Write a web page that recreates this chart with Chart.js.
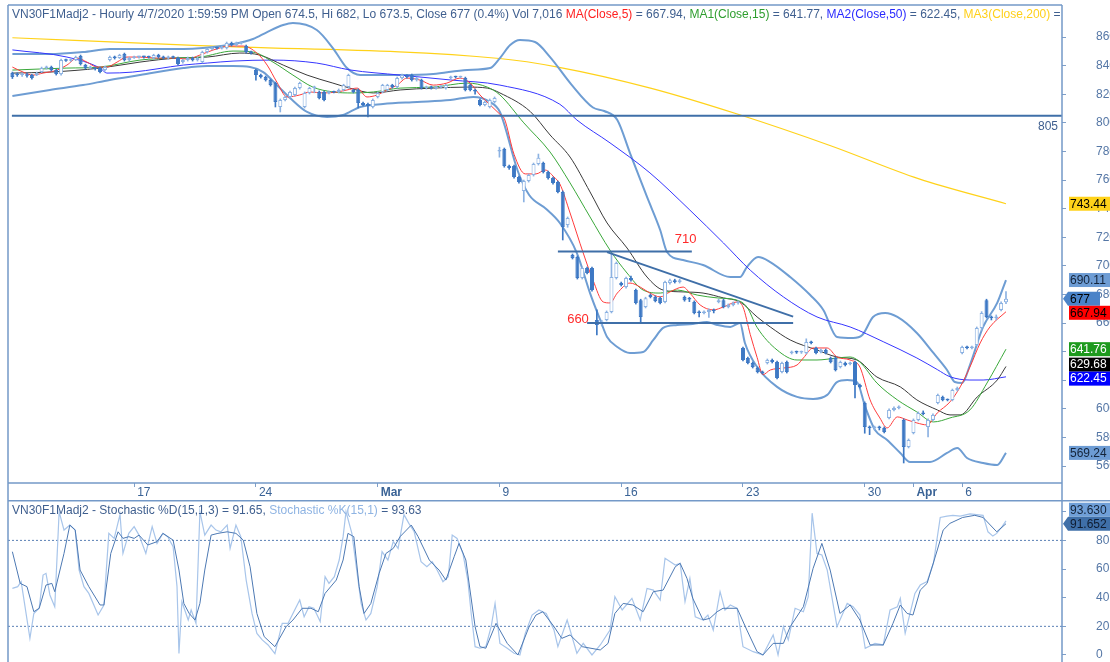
<!DOCTYPE html>
<html>
<head>
<meta charset="utf-8">
<script src="https://cdn.jsdelivr.net/npm/chart.js@4.4.1/dist/chart.umd.min.js"></script>
<style>
  html, body { margin: 0; padding: 0; background: #fff; }
  #wrap { position: relative; width: 1110px; height: 662px; overflow: hidden; }
  canvas { display: block; }
</style>
</head>
<body>
<div id="wrap">
  <canvas id="price" width="1110" height="500"></canvas>
  <canvas id="stoch" width="1110" height="162"></canvas>
</div>
<script>
// hourly bars, index 0 = Mon 10 Feb 2020 09:00, five bars per session
var barOpen = [
  834.8, 834, 833.4, 834, 833.4, 833.4, 835.5, 838.3, 839, 836.9,
  834.1, 843.9, 843.5, 843.9, 846.7, 840.4, 838.3, 838.3, 838.3, 836.9,
  843.9, 846, 845.3, 848.1, 843.9, 845.3, 846, 846.2, 846, 845.3,
  847.4, 846, 845.3, 846, 845.3, 842.5, 843.9, 845.3, 843.9, 842.5,
  849.5, 851.6, 852.3, 852, 852.3, 855.8, 854.4, 855.5, 853.7, 849.5,
  836.9, 833.4, 832, 829.9, 827.8, 811.1, 816, 818.1, 819.5, 824.3,
  811.1, 820.9, 824.3, 821.6, 821.6, 820.9, 821.6, 821.6, 823, 825,
  823, 823, 813.9, 813.2, 811.1, 818.1, 821.6, 823, 826.4, 825,
  831.3, 833, 833.4, 829.9, 829.9, 824.3, 825, 824.3, 825, 824.3,
  831.3, 832, 831.8, 831.3, 826.4, 823, 816, 812.5, 811.1, 814.6,
  780, 781.7, 770, 769.8, 762.1, 752.4, 759.3, 763.5, 771.2, 771.9,
  765.6, 761.4, 758.6, 751.7, 728.6, 707.6, 706.2, 691.5, 698.5, 698.5,
  662.2, 660.1, 662.2, 667.8, 691.5, 688, 685.2, 691.5, 683.1, 676,
  671.3, 679.6, 678.3, 677.6, 674.8, 688, 690, 688.7, 678.3, 677,
  674.8, 667.8, 667.1, 667.8, 669, 674.8, 676, 671.3, 672.7, 674,
  642.6, 635.6, 632.1, 628.6, 625.8, 632.1, 634.2, 632.8, 625.8, 632.8,
  639.1, 639.8, 639.5, 639.1, 646.8, 642.6, 639.8, 641.2, 635.6, 635.6,
  629.3, 632.1, 631.4, 632.8, 616.7, 604.2, 587.4, 586.7, 587, 586.7,
  593.7, 599.3, 600.7, 592.3, 573.4, 583.2, 592.3, 597.2, 587.4, 592.3,
  604.2, 608.4, 606.3, 606.3, 613.2, 639.1, 643.3, 642.6, 644.7, 656.6,
  676, 664.3, 663.6, 669.2, 674.5
];
var barHigh = [
  835.5, 835, 835, 834.8, 834, 835.5, 839, 839.7, 839.7, 837.6,
  844.6, 844.6, 844.6, 846.7, 847.4, 841, 839.7, 839, 839, 839.7,
  846.7, 846.7, 848, 848.8, 846, 846.7, 846.7, 846.7, 846.7, 848,
  848, 846.7, 846.7, 846.7, 846, 844.6, 846, 846, 846, 850.2,
  852.3, 853, 853, 853.7, 856.5, 856.5, 856.5, 856.7, 854.4, 850.2,
  837.6, 834.1, 832.7, 830.6, 828.5, 816.7, 818.8, 822.3, 825, 828.5,
  821.6, 825, 825.7, 822.3, 822.3, 822.3, 822.3, 823.7, 827, 834.1,
  823.7, 823.7, 814.6, 813.9, 816.7, 821.6, 827, 827, 827, 832,
  834.1, 833.7, 834.1, 832, 830.6, 825.7, 825.7, 825.7, 826, 827,
  832.7, 832.7, 832.7, 832, 827, 823.7, 816.7, 815.3, 816.7, 818.1,
  783, 782.4, 770.5, 770.5, 762.8, 760, 764.2, 771.9, 778.2, 772.6,
  766.3, 762.1, 759.3, 752.4, 734.2, 708.3, 706.9, 699.2, 699.2, 699.2,
  669.2, 662, 668.5, 709, 702.7, 688.7, 692.2, 692.9, 683.8, 676.7,
  678.1, 680.3, 679, 678.3, 689.4, 690.7, 690.7, 690.7, 679, 678,
  675.5, 668.5, 668.5, 669.9, 669.9, 676.7, 676.7, 673.4, 674.8, 675.5,
  643.3, 636.3, 632.8, 629.3, 626.5, 634.9, 634.9, 633.5, 632.8, 633.5,
  640.5, 640.5, 640.5, 649, 647.5, 643.3, 641.9, 641.9, 636.3, 636.3,
  633.5, 632.8, 632.8, 633.5, 617.4, 604.9, 588.1, 588, 588, 587.4,
  600, 601.4, 602.1, 593, 579, 593, 597.9, 598.6, 593, 596.5,
  610.4, 609, 607, 613.9, 615.3, 644, 644, 644, 657.3, 668,
  676.7, 665, 665.7, 674.8, 682
];
var barLow = [
  831, 832.5, 832.5, 832, 830.5, 833, 835, 837.6, 836.2, 833.4,
  833.4, 843, 843, 843.5, 840.4, 837.6, 837.6, 836.9, 835, 836.2,
  843.2, 844.6, 845, 843.2, 843.2, 845, 845.3, 845.3, 845.3, 844.6,
  845.3, 844.6, 844.6, 845, 840.4, 841.8, 843.2, 843.2, 843.2, 841.8,
  848.8, 851, 851.6, 851.6, 851.6, 853.7, 853.7, 855, 848.8, 848,
  829.9, 831.3, 829.2, 825.7, 811.1, 807.6, 815.3, 817.4, 818.8, 823.6,
  810.4, 820.2, 821, 816.7, 815.3, 820.2, 820.9, 820.9, 822.3, 824.3,
  820.9, 810.4, 811.8, 804.1, 810.4, 817.4, 820.9, 822.3, 824.3, 824.3,
  830.6, 831.3, 829.2, 829.2, 823.6, 823.6, 823.6, 823.6, 824.3, 823.6,
  830.6, 831.3, 831.3, 822.3, 822.3, 820, 811.8, 811.8, 810.4, 813.9,
  776, 769, 767.5, 761.4, 757.9, 744.7, 758.6, 762.8, 770.5, 764.9,
  760.7, 757.2, 751, 718.1, 727, 704.8, 690.8, 690.8, 694.3, 682.4,
  651.7, 658, 661.5, 667.1, 690.8, 685.9, 684.5, 689.3, 673.3, 660.1,
  670.6, 677.6, 674.8, 673.4, 674.1, 687.3, 688, 688, 675.3, 675,
  666.4, 664.3, 666.4, 664, 667.1, 674.1, 670.6, 670.6, 672, 673.3,
  633.5, 631.4, 628.6, 625.1, 624.4, 631.4, 632.1, 620.9, 625.1, 625.1,
  638.4, 638.8, 638.8, 638.4, 645.4, 638.4, 639.1, 638.4, 632.1, 626.5,
  628.6, 630, 630.7, 607.7, 614.7, 583, 582, 585.3, 585.3, 583.2,
  593, 598.6, 600, 562.2, 572.7, 582.5, 591.6, 595.8, 580.4, 591.6,
  603.5, 605.6, 605.6, 605.6, 612.5, 638.4, 641.9, 641.9, 644, 655,
  663.6, 662.2, 662.2, 668.5, 673.5
];
var barClose = [
  832, 833.4, 834, 833, 831.3, 834.8, 838.3, 839, 836.9, 834.1,
  843.9, 843.5, 843.9, 846, 841.1, 838.3, 839, 837.6, 835.5, 839,
  846, 845.3, 847.4, 843.9, 845.3, 846, 846.2, 846, 845.8, 847.4,
  846, 845.3, 846, 845.5, 841.1, 843.9, 845.3, 843.9, 845.3, 849.5,
  851.6, 852.3, 852, 853, 855.8, 854.4, 855.8, 856, 849.5, 848.8,
  833.4, 832, 829.9, 826.4, 814.6, 816, 818.1, 821.6, 824.3, 827.8,
  820.9, 824.3, 825, 817.4, 816, 821.6, 821.3, 823, 826.4, 833.4,
  821.6, 813.9, 812.5, 811.8, 816, 820.9, 826.4, 826.4, 825, 831.3,
  833.4, 832, 829.9, 831.3, 824.3, 825, 824.3, 825, 825.3, 826.4,
  832, 831.8, 832, 823, 823, 822, 812.5, 814.6, 816, 817.4,
  781, 769.8, 768.4, 762.1, 758.6, 759.3, 763.5, 771.2, 775.6, 765.6,
  761.4, 757.9, 751.7, 727.2, 733.5, 705.5, 691.5, 698.5, 695, 683.1,
  658.7, 660.8, 667.8, 692.2, 702, 686.6, 691.5, 690, 674, 664.3,
  677.4, 678.3, 675.5, 674.1, 688.7, 690, 688.7, 690, 676, 676.5,
  667.1, 667.1, 667.8, 669.2, 668.5, 676, 671.3, 672.7, 674, 674.8,
  634.2, 632.1, 629.3, 625.8, 625.1, 634.2, 632.8, 621.6, 632.1, 625.8,
  639.8, 639.5, 639.8, 646.8, 646.1, 639.1, 641.2, 639.1, 632.8, 627.2,
  632.8, 630.7, 632.1, 616.7, 615.4, 587.4, 586.7, 587, 586.7, 583.9,
  599.3, 600.7, 601.4, 573.4, 578.3, 592.3, 597.2, 596.5, 592.3, 595.8,
  609.7, 606.3, 606, 613.2, 614.6, 643.3, 642.6, 643.3, 656.6, 667,
  664.3, 663.6, 664.3, 674, 677
];

// indicator lines read at their turning points: [bar, value]
var ma5 = [[0,839],[2.2,835.5],[4.2,833.4],[6.3,834.8],[9.2,836.9],[11.2,840.4],[13.3,845.3],[15.3,842.5],[17.4,839],[19.4,839],
  [21.5,842.5],[23.5,846],[26.2,846],[29.7,845.3],[33,845.3],[35.9,844.6],[38.5,847.4],[41.2,850.9],[44.7,853.7],[47.4,853.7],
  [50.2,848.8],[52.3,840.4],[54.3,828.5],[56.4,818.1],[59,819.5],[61.1,821.6],[63.8,820.9],[66.7,821.6],[68.7,823],[70.8,824.3],
  [72.8,818.1],[74.9,819.5],[76.9,823],[79,826.4],[81,831.3],[83.7,829.9],[86.4,826.4],[89.2,827.8],[91.9,831.3],[94,827.8],
  [96,819.5],[98.1,812.5],[100.1,806],[101,803],[103,778],[105.3,764.3],[107.5,764.3],[109.4,767],[111.2,762.1],[112.4,757.3],
  [114.5,737],[117.2,709],[119.2,690.1],[121.3,674.8],[122.7,674.1],[124.2,681],[126.8,688],[128.9,685.2],[130.9,681],[133,678.3],
  [135,681.8],[137.7,685.2],[139.1,681],[141.2,672.7],[143.9,669.2],[146,671.3],[148.8,674.8],[150,671.3],[151.5,652],[152.9,636],
  [154.1,624],[155.6,627.2],[158.3,628.6],[161.1,630.7],[162.4,635.6],[164.4,642.6],[167.3,642.6],[169.3,636.3],[172,634.2],[174,629.3],
  [176.1,606.3],[178.1,593.7],[179.6,586.7],[181.7,594.4],[183.7,592.3],[185.7,590.2],[187.8,588.8],[189.9,597.2],[192.5,604.9],[194.6,615.4],
  [196.6,629.3],[198.7,646.1],[200.7,657.3],[204,667.94]];
var ma15 = [[0,836.9],[11.2,838.3],[18,839],[26.2,843.9],[33,845.3],[38.5,846],[45.3,850.2],[49.4,849.5],[53.5,842.5],[57.6,833.4],
  [61.7,825],[65.8,821.6],[69.9,820.9],[74.1,821.6],[79.6,824.3],[86.4,825],[93.4,827.8],[97.5,825],[100.1,819.5],[105,800],
  [110.4,779.6],[114.5,758],[118.6,734.2],[122.7,711],[126.2,695],[129.5,683.1],[133,681],[136.5,683.1],[140.6,679.6],[144.7,677.6],
  [148.8,676],[150.8,671.3],[152.9,657],[157,641.2],[161.1,634.2],[165.2,634.2],[169.3,635.6],[172,636.3],[174,632.8],[177.5,618.1],
  [181.7,606.3],[185.7,597.9],[189.1,590.9],[192.5,593.7],[196.6,599.3],[200.1,618.1],[204,641.77]];
var bbMid = [[0,834.8],[7.7,835.5],[18,838.3],[26.2,842.5],[33.8,845.3],[40,846],[46.7,848.8],[50.8,847.4],[55.6,840.4],[60.5,833.4],
  [65.8,827.8],[69.3,824.3],[74.1,820.9],[79.6,823],[86.4,824.3],[93.4,825],[97.5,824.3],[100.1,820.9],[106.3,808],[110.4,791.5],
  [114.5,776.1],[118.6,751.7],[122.1,730],[126.2,712.5],[130.3,692.2],[133.6,683.1],[137.7,681.8],[141.8,681],[146,677.6],[149.4,674.8],
  [152.9,664.3],[155.6,657.3],[159.7,648.2],[165.2,641.2],[169.3,636.3],[173.4,634.2],[177.5,622.3],[182.3,615.4],[185.7,606.3],[189.9,599.3],
  [192.5,595.8],[194.6,595.8],[198.1,608.4],[202.2,620.2],[204,629.68]];
var ma50 = [[0,851],[11.2,846],[18,838.3],[19.4,834.8],[24.7,835.5],[35.1,840.4],[40,841.8],[45.3,843.2],[53.5,843.9],[62.5,841.8],
  [69.3,837],[79.6,833.4],[89.9,830],[100.1,826.4],[112.4,813],[115.9,802],[122.7,786],[130.9,765],[139.1,739],[146,716],
  [151.5,697],[158.3,678.3],[165.2,664.3],[172,657.3],[178.8,647],[185.7,635.6],[189.9,627.5],[192.5,622.5],[196.6,620.2],[199.3,620.2],
  [204,622.45]];
var ma200 = [[0,859.5],[38.5,854],[100,845],[112,839],[131,824.3],[149,806],[168,784],[186,761],[204,743.44]];
var bbUp = [[0,848.1],[7.7,848.1],[14.5,849.5],[20,851.6],[35.1,851.6],[39.1,852.3],[45.3,855.1],[49.4,858.6],[52.3,863.5],[55.6,868.4],
  [57.6,869.8],[62.5,864.9],[65.8,852.3],[68.7,838.3],[71.4,833.4],[79.6,833.4],[86.4,834.1],[93.4,837],[98.1,838.3],[100.1,845.3],
  [102.2,854.4],[104.2,857.9],[107.3,856.5],[110.4,846],[114.7,827.1],[119.2,810.7],[121.5,808.3],[124.2,802],[126.8,778.9],[130.3,748.2],
  [133,725.1],[134.4,709.7],[137.7,704.1],[141.8,700.6],[147.4,692.2],[149.4,692.2],[150.8,699.2],[153.1,706.2],[155.6,702.7],[159.7,692.2],
  [163.8,679.6],[166.5,669.2],[169.3,650.3],[172.6,649.6],[174.5,651.7],[176.7,664.3],[179.2,667.1],[181.7,664.3],[185.7,653.1],[189.1,639.1],
  [191.9,627.2],[193.5,618.8],[195,618.1],[196.6,630.7],[199.3,657.3],[202.2,674.1],[204,690.11]];
var bbLow = [[0,818.8],[7.7,823],[14.5,826.4],[20,830],[26.2,833.4],[35.1,838.3],[40,839.7],[45.3,839.7],[48.8,839],[51.5,835.5],
  [54.3,826.4],[57,817.4],[60.5,807.6],[64.6,804.1],[67.9,805.5],[71.4,811.1],[76.1,813.2],[83.1,814.6],[89.9,816],[94.6,818.1],
  [98.1,814.6],[100.1,807.6],[103.8,766],[106.1,749.6],[109.6,739.8],[112.4,730],[115.9,709],[118.6,681],[120.7,662.2],[122.1,650.3],
  [124.2,643.3],[126.8,639.1],[129.5,639.8],[131.6,648.2],[133.6,656.6],[136.5,658.7],[139.7,659.4],[142.6,660.8],[144.7,658.7],[147.4,657.3],
  [149.4,660.1],[150.4,646.1],[152.9,629.3],[157,615.4],[161.1,608.4],[164.4,607],[167.3,609.8],[169.3,618.8],[171.4,620.2],[173.4,618.8],
  [175.1,601.4],[177.1,585.3],[179.6,578.3],[182.3,569.2],[184.3,562.9],[188.4,562.9],[191.9,569.2],[194,572.7],[196,565.7],[199.3,562.2],
  [202.2,560.8],[204,569.24]];

// drawn levels: [price, from bar, to bar]; trend line: two [bar, price] ends
var levels = [[805, -0.1, 215.5], [710, 112, 139.5], [660, 118, 160.3]];
var trend = [[122.1, 709.6], [160.3, 664.5]];
var noteText = ['710', '660'];
var noteBar = [136, 113.9];
var notePrice = [710, 660];

// stochastic lines: [bar, value]
var stochK = [[0,46.5],[1.1,47.7],[1.8,51.2],[3.6,11.6],[4.4,29],[5.5,32.6],[6.3,55.8],[6.9,57],[7.7,41.9],[8.7,33.7],
  [9.6,100],[10.6,87.2],[11.8,90.7],[12.9,87.2],[13.7,59.3],[14.7,47.7],[15.7,43],[17.6,27.9],[18.8,34.9],[19.8,84.9],
  [20.9,81.4],[22.1,98],[22.7,70.9],[23.9,84.9],[25,89.6],[26,83.7],[27.4,70.9],[28.7,89.6],[29.7,77.9],[30.9,84.9],
  [31.9,82.6],[33,75.6],[33.8,47.7],[34.2,1],[34.8,37.2],[36.1,24.4],[36.7,31.4],[37.7,22.1],[38.5,100],[39.5,83.7],
  [40.8,90.7],[41.8,87.2],[42.8,86],[44.1,90.7],[44.7,74.4],[45.9,90.7],[46.9,82.6],[48,52.3],[49.2,29],[50.2,15.1],
  [51.3,10.5],[52.5,7],[53.9,1],[55.4,22.1],[56.6,22.1],[57.6,29],[59,38.4],[59.9,26.7],[60.9,33.7],[61.9,32.6],
  [63.2,23.3],[64.2,54.7],[65,50],[66.1,54.7],[67.1,66.3],[67.9,82.6],[68.5,100],[69.7,84.9],[71.6,36],[72.6,24.4],
  [73.6,29],[74.9,47.7],[75.9,72.1],[77.1,66.3],[78.2,79.1],[79.2,74.4],[80.4,98],[81.4,91.9],[82.5,86],[83.9,65.1],
  [85.1,61.6],[86.2,65.1],[87.2,59.3],[88.4,51.2],[89.5,54.7],[90.3,83.7],[91.3,81.4],[92.5,70.9],[93.5,52.3],[94.2,29],
  [95,5.8],[96,4.7],[97.2,5.8],[98.3,19.8],[99.1,36],[100.1,8.1],[101.6,4.7],[103,1.2],[104.2,0],[105.3,15.1],
  [106.7,27.9],[108.1,31.4],[109.6,29],[111.2,17.4],[112,5.8],[113.9,24.4],[115.9,1.2],[117.2,8.1],[119,0],[120.7,7],
  [122.7,17.4],[123.7,40.7],[125.2,31.4],[127.2,39.5],[128.9,24.4],[130.3,46.5],[131.6,45.3],[133,38.4],[134,67.5],[136.1,62.8],
  [137.1,64],[138.1,37.2],[139.1,53.5],[140.2,26.7],[141.8,24.4],[142.8,27.9],[143.9,17.4],[145.3,44.2],[146.3,31.4],[147.4,34.9],
  [148.8,32.6],[150,5.8],[152.1,2.3],[154.1,0],[156.2,14],[157.2,0],[158.3,19.8],[159.3,10.5],[160.7,32.6],[162.4,30.2],
  [163.4,40.7],[164.2,99],[165.2,70.9],[166.2,69.8],[167.3,59.3],[169.3,19.8],[171.4,36],[172.6,33.7],[174,27.9],[175.1,4.7],
  [177.1,8.1],[178.8,7],[180.2,31.4],[181.7,33.7],[182.3,39.5],[183.3,15.1],[184.3,29],[185.3,43],[186.4,48.8],[187.8,51.2],
  [189.1,64],[190.5,96],[191.9,97],[193.1,97.5],[194.6,97],[196.6,98.5],[199.3,97.5],[200.3,86],[201.3,83],[202.1,84.9],
  [203.2,89.6],[204,93.63]];
var stochD = [[0,72.1],[1.6,50],[3,47.7],[4.4,30.2],[5.5,32.6],[6.9,48.8],[8.1,50],[8.7,44.2],[10.6,70.9],[11.8,90.7],
  [12.9,87.2],[13.9,59.3],[15.7,47.7],[18,34.9],[18.8,34.9],[20.2,70.9],[21.7,86],[22.7,81.4],[23.9,82.6],[25,81.4],
  [26,83.7],[27.8,76.8],[29.7,79.1],[30.9,84.9],[33,80.2],[34.2,59.3],[35.2,36],[36.3,29],[37.5,24.4],[38.5,36],
  [39.5,59.3],[40.8,83.7],[42.2,84.9],[44.1,86],[45.9,84.9],[47.4,80.2],[48.8,61.6],[50.2,29],[51.7,12.8],[53.9,5.8],
  [56.2,19.8],[57.6,24.4],[59.5,32.6],[61.3,32.6],[62.8,30.2],[64.2,43],[66.5,52.3],[67.9,66.3],[68.9,84.9],[70.1,82.6],
  [71.2,47.7],[72.2,29],[73.6,36],[75.3,57],[76.7,70.9],[78.2,74.4],[79.6,82.6],[81.9,90.7],[83.3,82.6],[85.6,66.3],
  [87.6,59.3],[89,52.3],[90.7,68.6],[91.7,77.9],[93.1,66.3],[95,19.8],[96,5.8],[97.2,4.7],[99.3,22.1],[101.6,8.1],
  [103.8,0],[106.1,19.8],[107.5,27.9],[108.9,30.2],[111.2,19.8],[112.8,11.6],[114.5,14],[117,5.8],[120.7,3.5],[122.3,8.1],
  [123.7,29],[125.4,36],[127.4,34.9],[129.5,30.2],[131.6,44.2],[133.6,45.3],[136.1,61.6],[137.1,64],[138.5,53.5],[139.7,39.5],
  [141.8,24.4],[143.2,25.6],[144.7,30.2],[145.9,32.6],[148.8,32.6],[150.8,17.4],[152.9,2.3],[154.1,0],[156.2,8.1],[158.3,8.1],
  [159.7,19.8],[162.4,33.7],[164.4,60.5],[166.2,77.9],[167.9,59.3],[169.9,29],[172,34.9],[174,24.4],[176.1,7],[178.8,7],
  [180.8,22.1],[182.3,34.9],[183.7,29],[184.9,27.9],[186.4,45.3],[187.8,50],[189.9,73.3],[191.1,87.2],[192.5,91.9],[195.1,96],
  [197.6,97.5],[199.3,96],[202.1,86],[204,91.65]];
var stochLevels = [80, 20];

// axes
var weekBars = [25, 50, 75, 100, 125, 150, 175, 185, 195];
var weekLabels = ['17', '24', 'Mar', '9', '16', '23', '30', 'Apr', '6'];
var priceTicks = [560, 580, 600, 620, 640, 660, 680, 700, 720, 740, 760, 780, 800, 820, 840, 860];
var stochTicks = [0, 20, 40, 60, 80, 100];

// last values shown on the price axis
var priceTags = [743.44, 690.11, 677, 667.94, 641.76, 629.68, 622.45, 569.24];
var stochTags = [93.63, 91.652];

var headerTop = [
  ['VN30F1Madj2 - Hourly 4/7/2020 1:59:59 PM Open 674.5, Hi 682, Lo 673.5, Close 677 (0.4%) Vol 7,016 ', '#3f5f8f'],
  ['MA(Close,5)', '#ff2020'], [' = 667.94, ', '#3f5f8f'],
  ['MA1(Close,15)', '#2e9e2e'], [' = 641.77, ', '#3f5f8f'],
  ['MA2(Close,50)', '#2a2aff'], [' = 622.45, ', '#3f5f8f'],
  ['MA3(Close,200)', '#ffd01a'], [' = 743.44', '#3f5f8f']
];
var headerLow = [
  ['VN30F1Madj2 - Stochastic %D(15,1,3) = 91.65, ', '#3f5f8f'],
  ['Stochastic %K(15,1)', '#8fb4e3'], [' = 93.63', '#3f5f8f']
];

// ---------- drawing ----------
var FONT = '"Liberation Sans", Arial, sans-serif';
Chart.defaults.font.family = FONT;
Chart.defaults.font.size = 12;
Chart.defaults.animation = false;

var XMIN = -0.9, XMAX = 215.5;
var FRAME = '#7499c8';
var UP = '#8cb2e2', DOWN = '#3d78c4';

function pts(pairs) {
  return pairs.map(function (p) { return { x: p[0], y: p[1] }; });
}
function lineSet(pairs, color, width, extra) {
  var ds = {
    type: 'line', data: pts(pairs), borderColor: color, borderWidth: width,
    pointRadius: 0, fill: false, cubicInterpolationMode: 'monotone', spanGaps: true
  };
  for (var k in extra) ds[k] = extra[k];
  return ds;
}
function isUp(i) { return barClose[i] >= barOpen[i]; }

// right axis: fixed width, no extra top/bottom padding from the label gap
function fitRightAxis(s) {
  s.width = 48;
  s.paddingTop = 0;
  s.paddingBottom = 0;
}

function drawSegments(ctx, segs, x, y, right) {
  ctx.save();
  ctx.beginPath();
  ctx.rect(0, 0, right, 2000);
  ctx.clip();
  ctx.font = '12px ' + FONT;
  ctx.textBaseline = 'alphabetic';
  ctx.textAlign = 'left';
  segs.forEach(function (s) {
    ctx.fillStyle = s[1];
    ctx.fillText(s[0], x, y);
    x += ctx.measureText(s[0]).width;
  });
  ctx.restore();
}

function spreadTags(items, h) {
  items.sort(function (a, b) { return a.y - b.y; });
  for (var pass = 0; pass < 30; pass++) {
    var moved = false;
    for (var k = 1; k < items.length; k++) {
      var a = items[k - 1], b = items[k];
      var ov = a.y + h - b.y;
      if (ov > 0.01) {
        if (a.fixed) b.y += ov;
        else if (b.fixed) a.y -= ov;
        else { a.y -= ov / 2; b.y += ov / 2; }
        moved = true;
      }
    }
    if (!moved) break;
  }
}

function drawTags(chart, scale, vals, styles, fmt) {
  var ctx = chart.ctx, ax = chart.chartArea.right, h = 14;
  var items = vals.map(function (v, k) {
    return { y: scale.getPixelForValue(v), k: k, fixed: !!styles[k].arrow };
  });
  spreadTags(items, h);
  ctx.save();
  ctx.font = '12px ' + FONT;
  ctx.textBaseline = 'middle';
  ctx.textAlign = 'left';
  items.forEach(function (it) {
    var st = styles[it.k], top = it.y - h / 2;
    ctx.fillStyle = st.bg;
    if (st.arrow) {
      ctx.beginPath();
      ctx.moveTo(ax + 1, it.y);
      ctx.lineTo(ax + 6, top);
      ctx.lineTo(st.right, top);
      ctx.lineTo(st.right, top + h);
      ctx.lineTo(ax + 6, top + h);
      ctx.closePath();
      ctx.fill();
    } else {
      ctx.fillRect(ax + 7, top, 60, h);
    }
    ctx.fillStyle = st.fg;
    ctx.fillText(fmt(vals[it.k]), ax + 8, it.y + 0.5);
  });
  ctx.restore();
}

var priceTagStyle = [
  { bg: '#ffd21a', fg: '#000' },
  { bg: '#6d9cd4', fg: '#14243a' },
  { bg: '#4a83c8', fg: '#000', arrow: true, right: 1100 },
  { bg: '#ff0000', fg: '#000' },
  { bg: '#1d9a1d', fg: '#fff' },
  { bg: '#000000', fg: '#fff' },
  { bg: '#0000ff', fg: '#fff' },
  { bg: '#6d9cd4', fg: '#14243a' }
];
var stochTagStyle = [
  { bg: '#6f9fd8', fg: '#14243a' },
  { bg: '#3f6fa8', fg: '#0f1c30', arrow: true, right: 1110 }
];
var noteOffset = [-9, 0];

var topPlugin = {
  id: 'topPanel',
  afterDraw: function (chart) {
    var ctx = chart.ctx, ca = chart.chartArea;
    var xs = chart.scales.x, ys = chart.scales.y;
    // frame
    ctx.save();
    ctx.strokeStyle = FRAME;
    ctx.lineWidth = 1.5;
    ctx.beginPath();
    ctx.moveTo(ca.left, ca.top); ctx.lineTo(ca.right, ca.top);
    ctx.moveTo(ca.left, ca.bottom); ctx.lineTo(ca.right, ca.bottom);
    ctx.moveTo(ca.left, ca.top); ctx.lineTo(ca.left, chart.height);
    ctx.moveTo(ca.right, ca.top); ctx.lineTo(ca.right, chart.height);
    ctx.stroke();
    ctx.restore();
    // header
    drawSegments(ctx, headerTop, ca.left + 4, ca.top + 13, ca.right - 2);
    // level label on the right
    ctx.save();
    ctx.font = '12px ' + FONT;
    ctx.fillStyle = '#3f5f8f';
    ctx.textAlign = 'right';
    ctx.fillText(String(levels[0][0]), ca.right - 4, ys.getPixelForValue(levels[0][0]) + 14);
    // notes
    ctx.font = '13px ' + FONT;
    ctx.fillStyle = '#ff2a2a';
    ctx.textAlign = 'left';
    noteText.forEach(function (t, k) {
      ctx.fillText(t, xs.getPixelForValue(noteBar[k]), ys.getPixelForValue(notePrice[k]) + noteOffset[k]);
    });
    ctx.restore();
    drawTags(chart, ys, priceTags, priceTagStyle, function (v) { return String(v); });
  }
};

var lowPlugin = {
  id: 'lowPanel',
  afterDraw: function (chart) {
    var ctx = chart.ctx, ca = chart.chartArea;
    ctx.save();
    ctx.strokeStyle = FRAME;
    ctx.lineWidth = 1.5;
    ctx.beginPath();
    ctx.moveTo(ca.left, 0.75); ctx.lineTo(chart.width, 0.75);
    ctx.moveTo(ca.left, 0); ctx.lineTo(ca.left, chart.height);
    ctx.moveTo(ca.right, 0); ctx.lineTo(ca.right, chart.height);
    ctx.stroke();
    ctx.restore();
    drawSegments(ctx, headerLow, ca.left + 4, 14, ca.right - 2);
    drawTags(chart, chart.scales.y, stochTags, stochTagStyle, function (v) { return v.toFixed(3); });
  }
};

// ---------- price panel ----------
var bodies = barOpen.map(function (o, i) { return { x: i, y: [o, barClose[i]] }; });
var wicks = barOpen.map(function (o, i) { return { x: i, y: [barLow[i], barHigh[i]] }; });

var levelSets = levels.map(function (l) {
  return lineSet([[l[1], l[0]], [l[2], l[0]]], '#3f6fa8', 2, { cubicInterpolationMode: 'default', tension: 0 });
});
levelSets.push(lineSet(trend, '#3f6fa8', 2, { cubicInterpolationMode: 'default', tension: 0 }));

new Chart(document.getElementById('price'), {
  type: 'bar',
  data: {
    datasets: levelSets.concat([
      {
        type: 'bar', data: bodies, grouped: false,
        categoryPercentage: 0.82, barPercentage: 1, maxBarThickness: 4, minBarLength: 1.5,
        backgroundColor: function (c) { return isUp(c.dataIndex) ? '#ffffff' : DOWN; },
        borderColor: function (c) { return isUp(c.dataIndex) ? UP : DOWN; },
        borderWidth: 1, borderSkipped: false
      },
      {
        type: 'bar', data: wicks, grouped: false,
        categoryPercentage: 1, barPercentage: 1, maxBarThickness: 1, minBarLength: 1,
        backgroundColor: function (c) { return isUp(c.dataIndex) ? UP : DOWN; },
        borderWidth: 0
      },
      lineSet(ma5, '#ff3b3b', 1),
      lineSet(ma15, '#3aa83a', 1),
      lineSet(bbMid, '#3a3a3a', 1),
      lineSet(ma50, '#3636ff', 1),
      lineSet(bbUp, '#6e9dd3', 2),
      lineSet(bbLow, '#6e9dd3', 2),
      lineSet(ma200, '#ffd21a', 1.2)
    ])
  },
  options: {
    responsive: false,
    events: [],
    layout: { padding: { left: 8, top: 5, right: 0, bottom: 0 } },
    plugins: { legend: { display: false }, tooltip: { enabled: false } },
    scales: {
      x: {
        type: 'linear', min: XMIN, max: XMAX, offset: false,
        afterBuildTicks: function (s) { s.ticks = weekBars.map(function (v) { return { value: v }; }); },
        afterFit: function (s) { s.height = 17; s.paddingLeft = 0; s.paddingRight = 0; },
        grid: { drawOnChartArea: false, drawTicks: true, tickLength: 4, color: '#7f9fc8', offset: false },
        border: { display: false },
        ticks: {
          autoSkip: false, maxRotation: 0, minRotation: 0, align: 'start', labelOffset: 3, padding: -2,
          color: '#3a6396',
          callback: function (v) { var k = weekBars.indexOf(v); return k < 0 ? null : weekLabels[k]; },
          font: function (c) {
            var lab = c.tick ? weekLabels[weekBars.indexOf(c.tick.value)] : '';
            return { size: 12, weight: /^[A-Z]/.test(lab || '') ? 'bold' : 'normal' };
          }
        }
      },
      y: {
        position: 'right', min: 548.2, max: 882.4,
        afterBuildTicks: function (s) { s.ticks = priceTicks.map(function (v) { return { value: v }; }); },
        afterFit: fitRightAxis,
        grid: { drawOnChartArea: false, drawTicks: true, tickLength: 4, color: '#7f9fc8' },
        border: { display: false },
        ticks: { padding: 30, color: '#5577a6', font: { size: 12 } }
      }
    }
  },
  plugins: [topPlugin]
});

// ---------- stochastic panel ----------
var stochSets = [
  lineSet(stochD, '#4d79b3', 1, { cubicInterpolationMode: 'default', tension: 0 }),
  lineSet(stochK, '#a8c5ea', 1.2, { cubicInterpolationMode: 'default', tension: 0 })
];
stochLevels.forEach(function (v) {
  stochSets.push(lineSet([[XMIN, v], [XMAX, v]], '#5a80b5', 1,
    { cubicInterpolationMode: 'default', tension: 0, borderDash: [2, 2] }));
});

new Chart(document.getElementById('stoch'), {
  type: 'line',
  data: { datasets: stochSets },
  options: {
    responsive: false,
    events: [],
    layout: { padding: { left: 8, top: 0, right: 0, bottom: 0 } },
    plugins: { legend: { display: false }, tooltip: { enabled: false } },
    scales: {
      x: { type: 'linear', min: XMIN, max: XMAX, display: false },
      y: {
        position: 'right', min: -4.9, max: 108.2,
        afterBuildTicks: function (s) { s.ticks = stochTicks.map(function (v) { return { value: v }; }); },
        afterFit: fitRightAxis,
        grid: { drawOnChartArea: false, drawTicks: true, tickLength: 4, color: '#7f9fc8' },
        border: { display: false },
        ticks: { padding: 30, color: '#5577a6', font: { size: 12 } }
      }
    }
  },
  plugins: [lowPlugin]
});
</script>
</body>
</html>
